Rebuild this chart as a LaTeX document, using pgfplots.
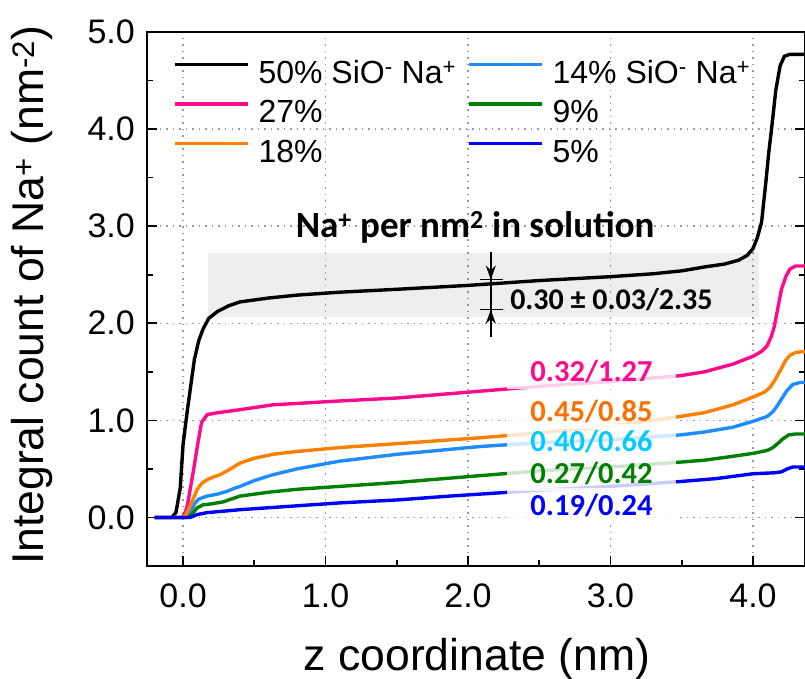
\documentclass[border=0pt]{standalone}
\usepackage{fontspec}
\setmainfont{Liberation Sans}
\newfontfamily\calibri{Carlito}
\usepackage{pgfplots}
\pgfplotsset{compat=1.18}
\usetikzlibrary{arrows.meta}

\definecolor{cpink}{RGB}{255,10,140}
\definecolor{corange}{RGB}{255,128,0}
\definecolor{clblue}{RGB}{30,140,255}
\definecolor{cgreen}{RGB}{0,128,0}
\definecolor{cblue}{RGB}{0,0,255}
\definecolor{lorange}{RGB}{255,110,0}
\definecolor{lcyan}{RGB}{0,204,255}

\begin{document}
\begin{tikzpicture}
\begin{axis}[
    name=ax, at={(0,0)}, anchor=south west,
    scale only axis, width=658pt, height=534pt,
    xmin=-0.253, xmax=4.365, ymin=-0.5, ymax=5.0,
    xtick={0,1,2,3,4}, ytick={0,1,2,3,4,5},
    minor x tick num=1, minor y tick num=1,
    xtick pos=left,
    tick align=inside,
    major tick length=10pt, minor tick length=6pt,
    every tick/.style={black, line width=1.6pt},
    axis line style={line width=1.8pt},
    grid=major,
    major grid style={black!40, line width=1.5pt, dash pattern=on 1.5pt off 5pt},
    tick label style={font=\fontsize{34}{40}\selectfont},
    xticklabel style={anchor=base, yshift=-41pt, inner sep=0pt},
    yticklabel style={anchor=east, xshift=-12pt, inner sep=0pt},
    /pgf/number format/fixed,
    /pgf/number format/fixed zerofill,
    /pgf/number format/precision=1,
    /pgf/number format/assume math mode=true,
    xlabel={z coordinate (nm)},
    ylabel={Integral count of Na\textsuperscript{+} (nm\textsuperscript{-2})},
    label style={font=\fontsize{44.5}{50}\selectfont},
    xlabel style={at={(axis description cs:0.5015,0)}, anchor=base, yshift=-104pt},
    ylabel style={at={(axis description cs:-0.175,0.507)}, anchor=center},
    legend columns=2,
    legend cell align=left,
    legend style={at={(axis description cs:0.0395,0.949)}, anchor=north west,
        draw=none, fill=none, inner sep=0pt,
        font=\fontsize{32}{38}\selectfont, row sep=7.5pt,
        nodes={inner sep=0pt, text height=24pt, text depth=8pt},
        /tikz/every odd column/.style={column sep=9pt},
        /tikz/every even column/.style={column sep=11pt}},
    legend image code/.code={\draw[#1] (0pt,11pt) -- (73pt,11pt);},
    every axis plot/.append style={line width=3.4pt},
]
% shaded band: solution region
\addplot[forget plot, draw=none, fill=black, fill opacity=0.065]
    coordinates {(0.175,2.06) (4.04,2.06) (4.04,2.72) (0.175,2.72)} -- cycle;

% 50%
\addplot[black] coordinates {
(-0.2,0) (-0.08,0) (-0.05,0.05) (-0.02,0.3) (0.0,0.75) (0.03,1.1) (0.06,1.42)
(0.08,1.63) (0.11,1.82) (0.14,1.94) (0.18,2.05) (0.24,2.12) (0.32,2.18) (0.40,2.22)
(0.6,2.26) (0.8,2.29) (1.1,2.32) (1.5,2.35) (2.0,2.39) (2.5,2.44) (3.0,2.48)
(3.3,2.51) (3.5,2.54) (3.66,2.58) (3.8,2.61) (3.9,2.65) (3.96,2.70) (4.0,2.77)
(4.03,2.88) (4.06,3.04) (4.09,3.45) (4.11,3.75) (4.13,4.0) (4.16,4.40) (4.19,4.65)
(4.22,4.75) (4.26,4.77) (4.37,4.77)};
\addlegendentry{50\% SiO\textsuperscript{-} Na\textsuperscript{+}}

% 14%
\addplot[clblue] coordinates {
(-0.2,0) (0.02,0) (0.05,0.05) (0.08,0.14) (0.11,0.19) (0.17,0.22) (0.24,0.24)
(0.31,0.27) (0.36,0.30) (0.40,0.32) (0.5,0.38) (0.63,0.44) (0.8,0.50) (1.1,0.58)
(1.5,0.65) (2.08,0.73) (2.5,0.77) (3.0,0.80) (3.49,0.85) (3.66,0.88) (3.86,0.93)
(4.0,0.99) (4.10,1.04) (4.14,1.09) (4.17,1.15) (4.20,1.22) (4.24,1.31) (4.28,1.37)
(4.33,1.39) (4.37,1.39)};
\addlegendentry{14\% SiO\textsuperscript{-} Na\textsuperscript{+}}

% 27%
\addplot[cpink] coordinates {
(-0.2,0) (-0.01,0) (0.01,0.03) (0.03,0.12) (0.05,0.29) (0.075,0.5) (0.10,0.73)
(0.13,0.98) (0.17,1.06) (0.25,1.08) (0.40,1.11) (0.63,1.16) (1.1,1.20) (1.5,1.23)
(2.08,1.30) (2.5,1.35) (3.0,1.40) (3.49,1.46) (3.66,1.50) (3.86,1.58) (4.0,1.66)
(4.06,1.71) (4.10,1.77) (4.13,1.87) (4.15,1.97) (4.18,2.2) (4.20,2.35) (4.23,2.48)
(4.26,2.56) (4.30,2.59) (4.37,2.59)};
\addlegendentry{27\%}

% 9%
\addplot[cgreen] coordinates {
(-0.2,0) (0.03,0) (0.06,0.03) (0.10,0.10) (0.14,0.13) (0.20,0.14) (0.28,0.16)
(0.40,0.22) (0.6,0.26) (0.8,0.29) (1.1,0.32) (1.5,0.36) (2.08,0.43) (2.5,0.48)
(3.0,0.52) (3.49,0.57) (3.66,0.59) (3.86,0.63) (4.0,0.66) (4.10,0.69) (4.14,0.72)
(4.18,0.77) (4.21,0.81) (4.25,0.85) (4.30,0.86) (4.37,0.86)};
\addlegendentry{9\%}

% 18%
\addplot[corange] coordinates {
(-0.2,0) (0.0,0) (0.02,0.03) (0.05,0.12) (0.08,0.22) (0.10,0.29) (0.13,0.35)
(0.17,0.39) (0.22,0.42) (0.26,0.44) (0.32,0.49) (0.40,0.56) (0.5,0.61) (0.63,0.65)
(0.8,0.68) (1.1,0.72) (1.5,0.76) (2.08,0.82) (2.5,0.87) (3.0,0.94) (3.49,1.04)
(3.66,1.08) (3.86,1.16) (4.0,1.24) (4.08,1.29) (4.12,1.34) (4.16,1.43) (4.19,1.51)
(4.23,1.62) (4.26,1.67) (4.30,1.70) (4.37,1.71)};
\addlegendentry{18\%}

% 5%
\addplot[cblue] coordinates {
(-0.2,0) (0.05,0) (0.10,0.03) (0.17,0.05) (0.40,0.08) (0.7,0.11) (1.1,0.15)
(1.5,0.18) (1.87,0.22) (2.5,0.28) (3.0,0.32) (3.49,0.37) (3.74,0.40) (4.0,0.45)
(4.15,0.46) (4.2,0.47) (4.24,0.50) (4.28,0.52) (4.37,0.52)};
\addlegendentry{5\%}

% annotations
\node[font=\calibri\bfseries\fontsize{37}{42}\selectfont] at (axis cs:2.05,2.99)
    {Na\textsuperscript{+} per nm\textsuperscript{2} in solution};
\draw[line width=2pt] (axis cs:2.16,2.73) -- (axis cs:2.16,1.86);
\draw[line width=2pt, -{Stealth[length=14pt,width=10pt]}] (axis cs:2.16,2.73) -- (axis cs:2.16,2.45);
\draw[line width=2pt, -{Stealth[length=14pt,width=10pt]}] (axis cs:2.16,1.86) -- (axis cs:2.16,2.14);
\draw[line width=1.5pt] (axis cs:2.084,2.45) -- (axis cs:2.246,2.45);
\draw[line width=1.5pt] (axis cs:2.084,2.14) -- (axis cs:2.246,2.14);
\node[font=\calibri\bfseries\fontsize{30}{34}\selectfont, anchor=west, inner sep=0pt]
    at (axis cs:2.295,2.24) {0.30 ± 0.03/2.35};

\tikzset{lab/.style={font=\calibri\bfseries\fontsize{30.5}{34}\selectfont,
    fill=white, fill opacity=0.8, text opacity=1, inner xsep=23pt, inner ysep=6pt}}
\node[lab, text=cpink]   at (axis cs:2.867,1.50) {0.32/1.27};
\node[lab, text=lorange] at (axis cs:2.867,1.09) {0.45/0.85};
\node[lab, text=lcyan]   at (axis cs:2.867,0.78) {0.40/0.66};
\node[lab, text=cgreen]  at (axis cs:2.867,0.45) {0.27/0.42};
\node[lab, text=cblue]   at (axis cs:2.867,0.12) {0.19/0.24};
\end{axis}
\pgfresetboundingbox
\path[use as bounding box] (-147pt,-113pt) rectangle (658pt,566pt);
\end{tikzpicture}
\end{document}
